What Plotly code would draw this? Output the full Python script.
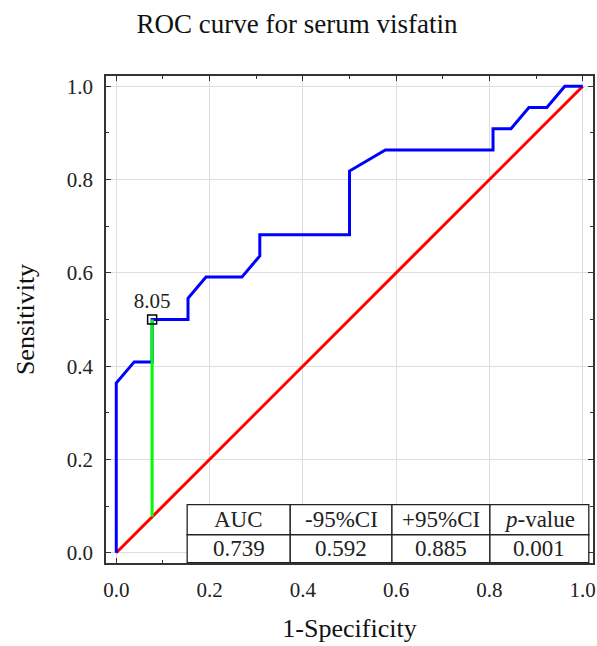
import plotly.graph_objects as go

# ---- data ----
fpr = [0, 0, 0.0385, 0.0769, 0.0769, 0.1538, 0.1538, 0.1923, 0.2692, 0.3077, 0.3077,
       0.5, 0.5, 0.5769, 0.8077, 0.8077, 0.8462, 0.8846, 0.9231, 0.9615, 1.0]
tpr = [0, 0.3636, 0.4091, 0.4091, 0.5, 0.5, 0.5455, 0.5909, 0.5909, 0.6364, 0.6818,
       0.6818, 0.8182, 0.8636, 0.8636, 0.9091, 0.9091, 0.9545, 0.9545, 1.0, 1.0]
ref_x = [0, 1]
ref_y = [0, 1]
cut_fpr = 0.0769
cut_tpr = 0.5
cut_label = "8.05"
table_headers = ["AUC", "-95%CI", "+95%CI", "<i>p</i>-value"]
table_values = ["0.739", "0.592", "0.885", "0.001"]
tick_vals = [0.0, 0.2, 0.4, 0.6, 0.8, 1.0]
tick_text = ["0.0", "0.2", "0.4", "0.6", "0.8", "1.0"]

# ---- layout constants ----
FONT = "Liberation Serif"
col_edges = [0.152, 0.373, 0.591, 0.801, 1.013]
row_edges = [0.103, 0.0386, -0.0215]
W, H = 597, 646
Y_LABEL_STANDOFF = 7

fig = go.Figure()
fig.add_trace(go.Scatter(x=ref_x, y=ref_y, mode="lines",
                         line=dict(color="#ff0000", width=3), hoverinfo="skip"))
fig.add_trace(go.Scatter(x=fpr, y=tpr, mode="lines",
                         line=dict(color="#0000ff", width=3)))
fig.add_trace(go.Scatter(x=[cut_fpr, cut_fpr], y=[cut_fpr, cut_tpr], mode="lines",
                         line=dict(color="#00ff00", width=3)))
fig.add_trace(go.Scatter(x=[cut_fpr], y=[cut_tpr], mode="markers+text",
                         marker=dict(symbol="square-open", size=9, color="black",
                                     line=dict(width=1.5)),
                         text=[cut_label], textposition="top center",
                         textfont=dict(family=FONT, size=21, color="#222")))

shapes = []
for r in range(2):
    for c in range(4):
        shapes.append(dict(type="rect", xref="x", yref="y",
                           x0=col_edges[c], x1=col_edges[c + 1],
                           y0=row_edges[r + 1], y1=row_edges[r],
                           fillcolor="white", line=dict(color="#222", width=1.3),
                           layer="above"))
annotations = []
for c in range(4):
    xc = (col_edges[c] + col_edges[c + 1]) / 2
    annotations.append(dict(x=xc, y=(row_edges[0] + row_edges[1]) / 2, xref="x", yref="y",
                            text=table_headers[c], showarrow=False,
                            font=dict(family=FONT, size=23, color="#222")))
    annotations.append(dict(x=xc, y=(row_edges[1] + row_edges[2]) / 2, xref="x", yref="y",
                            text=table_values[c], showarrow=False,
                            font=dict(family=FONT, size=23, color="#222")))

axis_common = dict(range=[-0.022, 1.022], tickvals=tick_vals, ticktext=tick_text,
                   showgrid=True, gridcolor="#dedede", gridwidth=1,
                   zeroline=False, showline=True, linecolor="#333", linewidth=1.5,
                   mirror="allticks", ticks="inside", ticklen=5, tickcolor="#333",
                   tickfont=dict(family=FONT, size=21, color="#222"),
                   minor=dict(dtick=0.1, tick0=0, ticks="inside", ticklen=3,
                              tickcolor="#333", showgrid=False),
                   automargin=False, fixedrange=True)

fig.update_layout(
    width=W, height=H,
    margin=dict(l=106, r=4, t=76, b=83),
    paper_bgcolor="white", plot_bgcolor="white",
    showlegend=False,
    title=dict(text="ROC curve for serum visfatin", x=297 / W, xref="container",
               y=1 - 24 / H, yref="container", xanchor="center", yanchor="middle",
               font=dict(family=FONT, size=27, color="#111")),
    xaxis=dict(**axis_common, title=dict(text="1-Specificity", standoff=18,
                                         font=dict(family=FONT, size=26, color="#111")),
               ticklabelstandoff=7),
    yaxis=dict(**axis_common, title=dict(text="Sensitivity", standoff=10 + (22 - Y_LABEL_STANDOFF),
                                         font=dict(family=FONT, size=26, color="#111")),
               ticklabelstandoff=Y_LABEL_STANDOFF),
    shapes=shapes,
    annotations=annotations,
)

fig.write_html("out.html", config={"displayModeBar": False},
               post_script="document.body.style.margin='0';document.body.style.overflow='hidden';")
